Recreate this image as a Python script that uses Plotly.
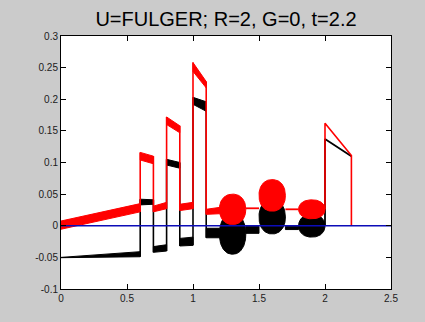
import numpy as np
import plotly.graph_objects as go

# ---- waveform data -------------------------------------------------------
# Piecewise bands (start x, end x, top/bottom at start and end) for the
# voltage envelope (red) and the current envelope (black).
seg_x0 = [0.0, 0.6, 0.7, 0.8, 0.9, 1.0, 1.1]
seg_x1 = [0.6, 0.7, 0.8, 0.9, 1.0, 1.1, 1.2]

red_top0 = [0.0075, 0.116, 0.031, 0.172, 0.034, 0.258, 0.026]
red_top1 = [0.035, 0.110, 0.037, 0.158, 0.037, 0.228, 0.029]
red_bot0 = [-0.0055, 0.104, 0.022, 0.160, 0.024, 0.244, 0.018]
red_bot1 = [0.022, 0.098, 0.027, 0.147, 0.027, 0.218, 0.019]

blk_top0 = [-0.050, 0.042, -0.033, 0.105, -0.020, 0.203, -0.004]
blk_top1 = [-0.041, 0.041, -0.030, 0.100, -0.018, 0.196, -0.004]
blk_bot0 = [-0.0505, 0.033, -0.042, 0.096, -0.032, 0.192, -0.019]
blk_bot1 = [-0.049, 0.034, -0.040, 0.091, -0.031, 0.181, -0.019]

# Oscillation blobs after t = 1.2 (centre, half-width, half-height)
blob_x = [1.3, 1.6, 1.9]
blob_rx = [0.1, 0.1, 0.1]
red_blob_y = [0.026, 0.048, 0.026]
red_blob_ry = [0.024, 0.025, 0.015]
blk_blob_y = [-0.013, 0.014, 0.0]
blk_blob_ry = [0.032, 0.027, 0.018]

# Links between blobs
link_x0 = [1.4, 1.7]
link_x1 = [1.5, 1.8]
red_link_y = [0.0276, 0.026]
blk_link_top = [-0.001, -0.001]
blk_link_bot = [-0.012, -0.006]

# Final ramp
red_tail_x = [2.0, 2.0, 2.2, 2.2]
red_tail_y = [0.026, 0.162, 0.111, 0.0]
blk_tail_x = [2.0, 2.0, 2.2]
blk_tail_y = [0.0, 0.137, 0.110]

# Axes
x_ticks = [0, 0.5, 1, 1.5, 2, 2.5]
x_labels = ["0", "0.5", "1", "1.5", "2", "2.5"]
y_ticks = [-0.1, -0.05, 0, 0.05, 0.1, 0.15, 0.2, 0.25, 0.3]
y_labels = ["-0.1", "-0.05", "0", "0.05", "0.1", "0.15", "0.2", "0.25", "0.3"]

RED = "#ff0000"
BLACK = "#000000"
BLUE = "#0c0cb8"
BLOB_POWER = 2.2  # squareness of the oscillation blobs

fig = go.Figure()


def add_bands(x0, x1, t0, t1, b0, b1, color):
    xs, ys = [], []
    for a, b, ta, tb, ba, bb in zip(x0, x1, t0, t1, b0, b1):
        xs += [a, b, b, a, a, None]
        ys += [ta, tb, bb, ba, ta, None]
    fig.add_trace(go.Scatter(x=xs, y=ys, mode="lines", fill="toself",
                             fillcolor=color, line=dict(color=color, width=1),
                             hoverinfo="skip", showlegend=False))


def add_steps(x0, x1, t0, t1, b0, b1, color):
    # vertical jumps where consecutive bands meet
    xs, ys = [], []
    for i in range(len(x0) - 1):
        xb = x1[i]
        lo = min(b1[i], b0[i + 1])
        hi = max(t1[i], t0[i + 1])
        xs += [xb, xb, None]
        ys += [lo, hi, None]
    fig.add_trace(go.Scatter(x=xs, y=ys, mode="lines",
                             line=dict(color=color, width=1.6),
                             hoverinfo="skip", showlegend=False))


def add_blobs(cx, rx, cy, ry, color):
    th = np.linspace(0, 2 * np.pi, 120)
    c, s = np.cos(th), np.sin(th)
    e = 2.0 / BLOB_POWER
    ux = np.sign(c) * np.abs(c) ** e
    uy = np.sign(s) * np.abs(s) ** e
    xs, ys = [], []
    for a, b, cc, d in zip(cx, rx, cy, ry):
        xs += list(a + b * ux) + [None]
        ys += list(cc + d * uy) + [None]
    fig.add_trace(go.Scatter(x=xs, y=ys, mode="lines", fill="toself",
                             fillcolor=color, line=dict(color=color, width=1),
                             hoverinfo="skip", showlegend=False))


# current (black) drawn first, voltage (red) on top
add_bands(seg_x0, seg_x1, blk_top0, blk_top1, blk_bot0, blk_bot1, BLACK)
add_steps(seg_x0, seg_x1, blk_top0, blk_top1, blk_bot0, blk_bot1, BLACK)
add_blobs(blob_x, blob_rx, blk_blob_y, blk_blob_ry, BLACK)
add_bands(link_x0, link_x1, blk_link_top, blk_link_top, blk_link_bot,
          blk_link_bot, BLACK)
fig.add_trace(go.Scatter(x=blk_tail_x, y=blk_tail_y, mode="lines",
                         line=dict(color=BLACK, width=1.8),
                         hoverinfo="skip", showlegend=False))

add_bands(seg_x0, seg_x1, red_top0, red_top1, red_bot0, red_bot1, RED)
add_steps(seg_x0, seg_x1, red_top0, red_top1, red_bot0, red_bot1, RED)
add_blobs(blob_x, blob_rx, red_blob_y, red_blob_ry, RED)
lx, ly = [], []
for a, b, y in zip(link_x0, link_x1, red_link_y):
    lx += [a, b, None]
    ly += [y, y, None]
fig.add_trace(go.Scatter(x=lx, y=ly, mode="lines",
                         line=dict(color=RED, width=1.8),
                         hoverinfo="skip", showlegend=False))
fig.add_trace(go.Scatter(x=red_tail_x, y=red_tail_y, mode="lines",
                         line=dict(color=RED, width=1.6),
                         hoverinfo="skip", showlegend=False))

# zero reference
fig.add_trace(go.Scatter(x=[x_ticks[0], x_ticks[-1]], y=[0, 0], mode="lines",
                         line=dict(color=BLUE, width=1.6),
                         hoverinfo="skip", showlegend=False))

axis_common = dict(showgrid=False, zeroline=False, showline=True,
                   linecolor="black", linewidth=1, mirror="allticks",
                   ticks="inside", ticklen=5, tickcolor="black",
                   tickfont=dict(family="Liberation Sans, Arial", size=10,
                                 color="#202020"))

fig.update_layout(
    width=425, height=322,
    margin=dict(l=61, r=34, t=36, b=33),
    paper_bgcolor="#cbcbcb",
    plot_bgcolor="white",
    title=dict(text="U=FULGER; R=2, G=0, t=2.2",
               font=dict(family="Liberation Sans, Arial", size=20,
                         color="black"),
               x=226 / 425, xanchor="center",
               y=1 - 19 / 322, yanchor="middle"),
    xaxis=dict(range=[0, 2.5], tickvals=x_ticks, ticktext=x_labels,
               **axis_common),
    yaxis=dict(range=[-0.1, 0.3], tickvals=y_ticks, ticktext=y_labels,
               **axis_common),
)

fig.write_html("out.html")
